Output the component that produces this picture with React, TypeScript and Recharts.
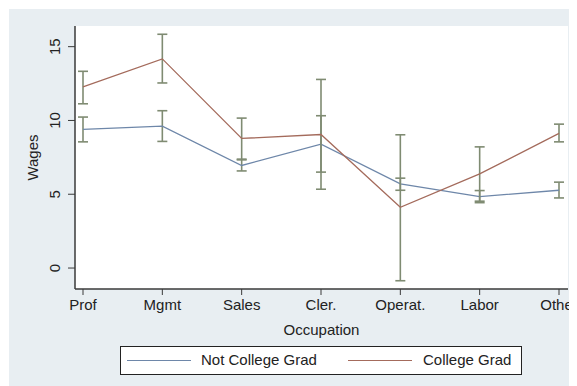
import React from 'react';
import { LineChart, Line, XAxis, YAxis, CartesianGrid, ErrorBar } from 'recharts';

const categories = ['Prof', 'Mgmt', 'Sales', 'Cler.', 'Operat.', 'Labor', 'Other'];
const notGrad = [9.39, 9.62, 6.95, 8.4, 5.7, 4.84, 5.27];
const notGradLo = [8.55, 8.58, 6.58, 6.5, 5.27, 4.43, 4.75];
const notGradHi = [10.23, 10.66, 7.33, 10.32, 6.09, 5.25, 5.82];
const grad = [12.27, 14.17, 8.78, 9.05, 4.12, 6.38, 9.12];
const gradLo = [11.13, 12.54, 7.38, 5.34, -0.86, 4.53, 8.55];
const gradHi = [13.33, 15.84, 10.16, 12.78, 9.03, 8.21, 9.75];
const yTicks = [0, 5, 10, 15];

const data = categories.map((c, i) => ({
  occ: c,
  notGrad: notGrad[i],
  notGradErr: [notGrad[i] - notGradLo[i], notGradHi[i] - notGrad[i]],
  grad: grad[i],
  gradErr: [grad[i] - gradLo[i], gradHi[i] - grad[i]],
}));

const FONT = '"Liberation Sans", Arial, Helvetica, sans-serif';
const BLUE = '#6e87a9';
const RED = '#a46b5c';
const ERR = '#7f8b72';
const AXIS = '#3a3a3a';
const BG = '#e8eef2';

const YTick = (props: any) => {
  const { x, y, payload } = props;
  const bx = x - 7.5;
  return (
    <text
      x={bx}
      y={y}
      transform={`rotate(-90, ${bx}, ${y})`}
      textAnchor="middle"
      fontSize={15}
      fontFamily={FONT}
      fill="#222"
    >
      {payload.value}
    </text>
  );
};

export default function App() {
  return (
    <div style={{ padding: '1px 0 0 1px', background: '#fff', width: 569 }}>
      <div style={{ position: 'relative', width: 568, height: 377, background: BG }}>
        <LineChart
          width={568}
          height={377}
          data={data}
          margin={{ top: 17, right: 9, left: 0, bottom: 0 }}
        >
          <rect x={66} y={17} width={493} height={263} fill="#fff" />
          <CartesianGrid
            vertical={false}
            stroke="#e6edf3"
            strokeWidth={1.5}
            fill="#ffffff"
            horizontalValues={yTicks}
          />
          <XAxis
            dataKey="occ"
            type="category"
            height={97}
            padding={{ left: 8, right: 9 }}
            axisLine={{ stroke: AXIS, strokeWidth: 1.5 }}
            tickLine={{ stroke: AXIS, strokeWidth: 1 }}
            tickSize={6}
            tickMargin={4}
            tick={{ fontSize: 15, fontFamily: FONT, fill: '#222' }}
            interval={0}
            label={{
              content: (p: any) => {
                const vb = p.viewBox;
                return (
                  <text
                    x={vb.x + vb.width / 2}
                    y={325.5}
                    textAnchor="middle"
                    fontSize={15}
                    fontFamily={FONT}
                    fill="#222"
                  >
                    Occupation
                  </text>
                );
              },
            }}
          />
          <YAxis
            width={66}
            domain={[-1.42, 16.4]}
            ticks={yTicks}
            type="number"
            allowDataOverflow
            axisLine={{ stroke: AXIS, strokeWidth: 1.5 }}
            tickLine={{ stroke: AXIS, strokeWidth: 1 }}
            tickSize={7}
            tickMargin={0}
            tick={<YTick />}
            label={{
              content: (p: any) => {
                const vb = p.viewBox;
                const x = 28.5;
                const y = vb.y + vb.height / 2;
                return (
                  <text
                    x={x}
                    y={y}
                    transform={`rotate(-90, ${x}, ${y})`}
                    textAnchor="middle"
                    fontSize={15}
                    fontFamily={FONT}
                    fill="#222"
                  >
                    Wages
                  </text>
                );
              },
            }}
          />
          <Line
            dataKey="notGrad"
            stroke={BLUE}
            strokeWidth={1.3}
            dot={false}
            isAnimationActive={false}
          >
            <ErrorBar dataKey="notGradErr" direction="y" width={5} stroke={ERR} strokeWidth={1.6} isAnimationActive={false} />
          </Line>
          <Line
            dataKey="grad"
            stroke={RED}
            strokeWidth={1.3}
            dot={false}
            isAnimationActive={false}
          >
            <ErrorBar dataKey="gradErr" direction="y" width={5} stroke={ERR} strokeWidth={1.6} isAnimationActive={false} />
          </Line>
        </LineChart>
        <div
          style={{
            position: 'absolute',
            left: 111,
            top: 337,
            width: 400,
            height: 27,
            border: '1px solid #222',
            background: '#fff',
            fontFamily: FONT,
            fontSize: 15,
            color: '#222',
          }}
        >
          <div style={{ position: 'absolute', left: 6, top: 13, width: 64, height: 0, borderTop: `1.5px solid ${BLUE}` }} />
          <div style={{ position: 'absolute', left: 80, top: 4, lineHeight: '18px', whiteSpace: 'nowrap' }}>Not College Grad</div>
          <div style={{ position: 'absolute', left: 227, top: 13, width: 64, height: 0, borderTop: `1.5px solid ${RED}` }} />
          <div style={{ position: 'absolute', left: 302, top: 4, lineHeight: '18px', whiteSpace: 'nowrap' }}>College Grad</div>
        </div>
      </div>
    </div>
  );
}
